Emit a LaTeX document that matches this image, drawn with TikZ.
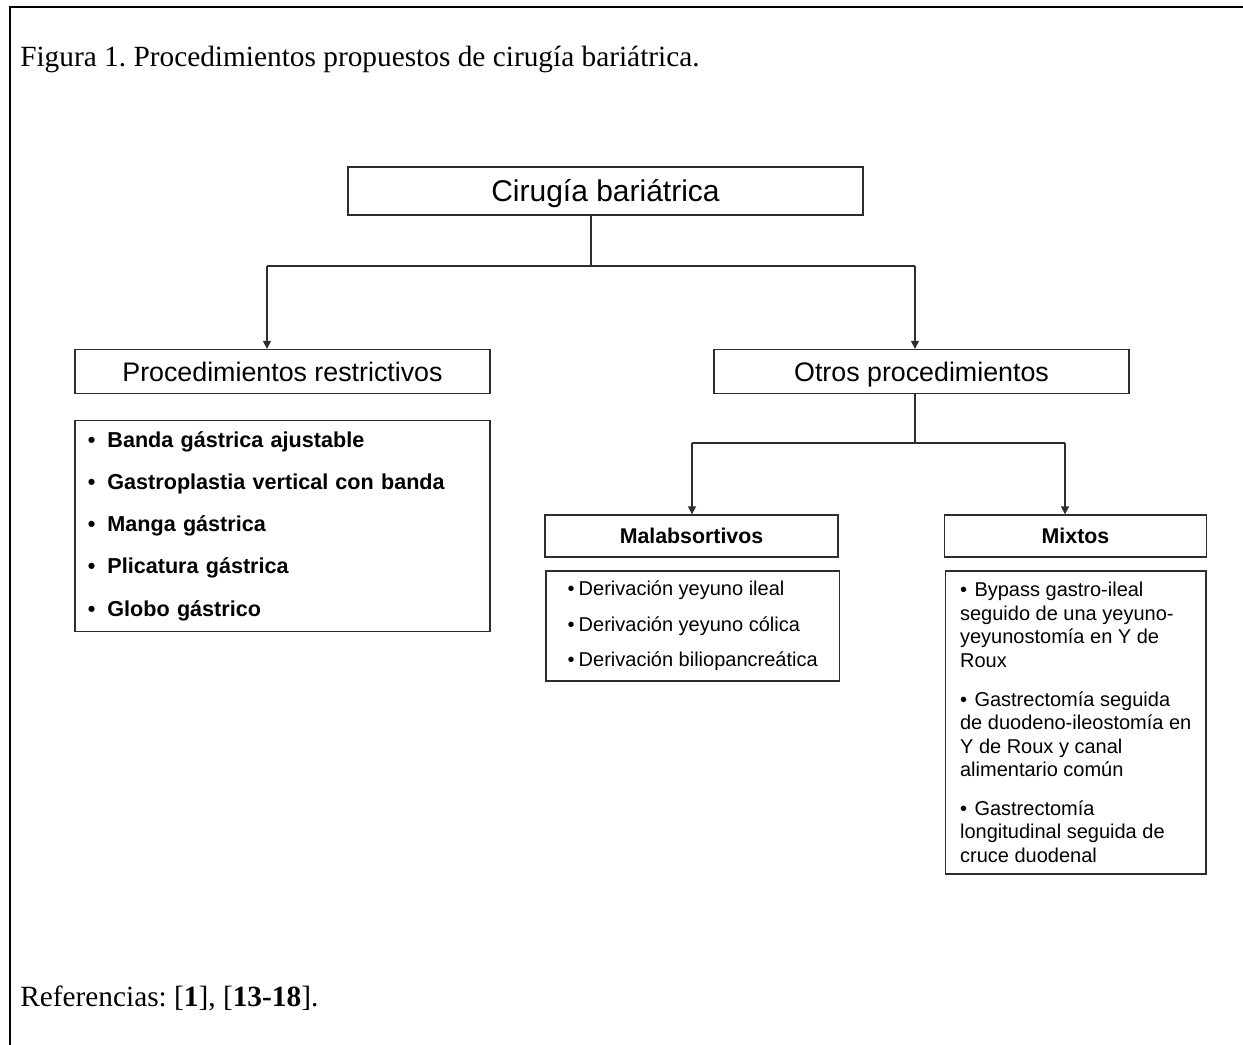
\documentclass[tikz,border=0pt]{standalone}
\usepackage{fontspec}
\setmainfont{Liberation Serif}
\newfontfamily\arialfam{Liberation Sans}
\usetikzlibrary{arrows.meta}
\definecolor{boxgray}{RGB}{45,45,45}
\frenchspacing

\tikzset{
  headbox/.style={draw=boxgray, line width=1pt, inner sep=0pt, align=center, text depth=0pt},
  listbox/.style={draw=boxgray, line width=1pt, inner ysep=0pt, align=left},
  link/.style={draw=boxgray, line width=1pt},
  arrowlink/.style={link, -{Triangle[length=6pt,width=6pt]}},
}

\begin{document}
\begin{tikzpicture}[x=0.75pt,y=0.75pt,yscale=-1,xscale=1]
\useasboundingbox (0,0) rectangle (1243,1045);

%Straight Lines [frame]
\draw [line width=2.2pt] (10,1045) -- (10,7) -- (1243,7) ;

% Text Node
\node (caption) [anchor=base west, inner sep=0pt, font=\fontsize{22}{26}\selectfont] at (20,67) {Figura 1. Procedimientos propuestos de cirugía bariátrica.};

%Shape: Rectangle [top]
\node (cirugia) [headbox, minimum width=386.3pt, minimum height=36pt, text height=16.1pt, font=\arialfam\fontsize{22.5}{27}\selectfont] at (605.5,191) {Cirugía bariátrica};
%Shape: Rectangle [restrictivos]
\node (restr) [headbox, minimum width=311.3pt, minimum height=33pt, text height=14.4pt, font=\arialfam\fontsize{20.1}{24}\selectfont] at (282.5,371.5) {Procedimientos restrictivos};
%Shape: Rectangle [otros]
\node (otros) [headbox, minimum width=311.3pt, minimum height=33pt, text height=14.4pt, font=\arialfam\fontsize{20.1}{24}\selectfont] at (921.5,371.5) {Otros procedimientos};
%Shape: Rectangle [malabsortivos]
\node (mala) [headbox, minimum width=219.8pt, minimum height=31.5pt, text height=11.5pt, font=\arialfam\bfseries\fontsize{16}{19}\selectfont] at (691.5,536) {Malabsortivos};
%Shape: Rectangle [mixtos]
\node (mixtos) [headbox, minimum width=196.1pt, minimum height=31.5pt, text height=11.5pt, font=\arialfam\bfseries\fontsize{16}{19}\selectfont] at (1075.5,536) {Mixtos};

%Shape: Rectangle [lists]
\node (restrlist) [listbox, text width=291.8pt, inner xsep=9.75pt, minimum height=158.3pt, font=\arialfam\bfseries\fontsize{16.2}{31.7}\selectfont] at (282.5,526) {•\hspace{0.55em}Banda gástrica ajustable\\
•\hspace{0.55em}Gastroplastia vertical con banda\\
•\hspace{0.55em}Manga gástrica\\
•\hspace{0.55em}Plicatura gástrica\\
•\hspace{0.55em}Globo gástrico};
\node (malalist) [listbox, minimum width=220.1pt, minimum height=82.5pt, font=\arialfam\fontsize{15}{26.6}\selectfont] at (692.75,626) {•\hspace{0.2em}Derivación yeyuno ileal\\
•\hspace{0.2em}Derivación yeyuno cólica\\
•\hspace{0.2em}Derivación biliopancreática};
\node (mixtoslist) [listbox, minimum width=195.4pt, minimum height=227.3pt, font=\arialfam\fontsize{15}{17.6}\selectfont] at (1075.75,722.5) {•\hspace{0.37em}Bypass gastro-ileal\\
seguido de una yeyuno-\\
yeyunostomía en Y de\\
Roux\\[11.6pt]
•\hspace{0.37em}Gastrectomía seguida\\
de duodeno-ileostomía en\\
Y de Roux y canal\\
alimentario común\\[11.6pt]
•\hspace{0.37em}Gastrectomía\\
longitudinal seguida de\\
cruce duodenal};

%Straight Lines [first fork]
\coordinate (forkA) at (591,266);
\coordinate (forkAl) at (267,266);
\coordinate (forkAr) at (915,266);
\draw [link] (cirugia.south -| forkA) -- (forkA) ;
\draw [link] (forkAl) -- (forkAr) ;
\draw [arrowlink] (forkAl) -- (forkAl |- restr.north) ;
\draw [arrowlink] (forkAr) -- (forkAr |- otros.north) ;

%Straight Lines [second fork]
\coordinate (forkB) at (915,443);
\coordinate (forkBl) at (692,443);
\coordinate (forkBr) at (1065,443);
\draw [link] (otros.south -| forkB) -- (forkB) ;
\draw [link] (forkBl) -- (forkBr) ;
\draw [arrowlink] (forkBl) -- (forkBl |- mala.north) ;
\draw [arrowlink] (forkBr) -- (forkBr |- mixtos.north) ;

% Text Node
\node (refs) [anchor=base west, inner sep=0pt, font=\fontsize{22}{26}\selectfont] at (20,1006) {Referencias: [\textbf{1}], [\textbf{13-18}].};

\end{tikzpicture}
\end{document}
